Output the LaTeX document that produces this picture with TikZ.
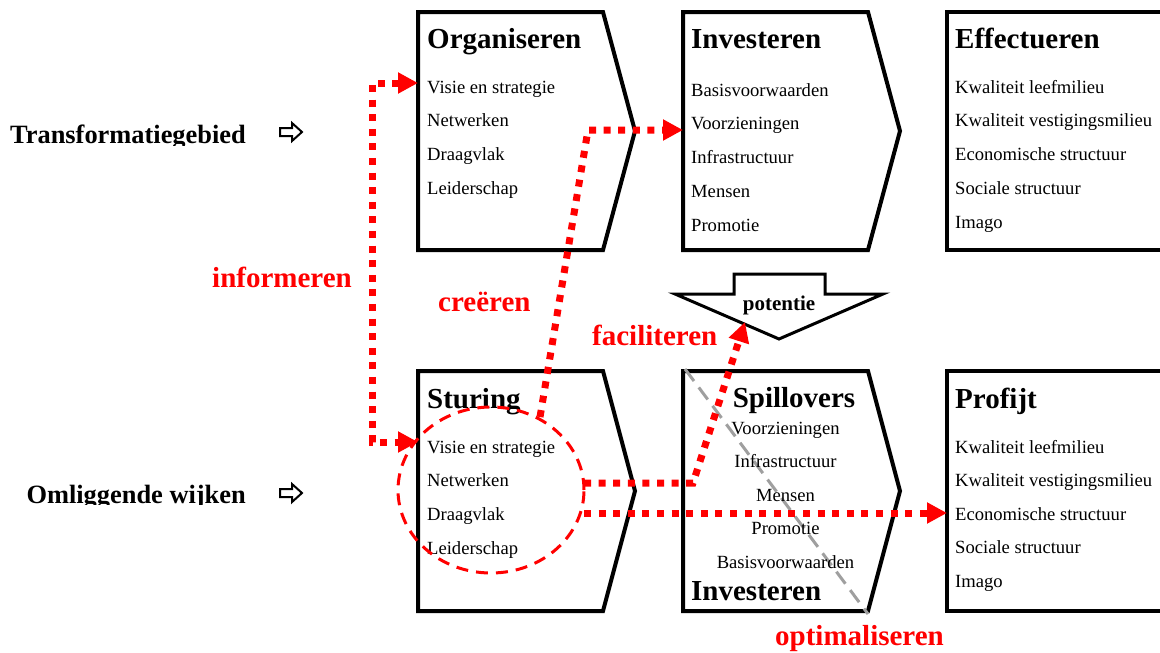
\documentclass[tikz,border=0pt]{standalone}
\usepackage{fontspec}
\setmainfont{Liberation Serif}
\usetikzlibrary{arrows.meta,calc}

% chevron-shaped stage box drawn around a named frame node
\newcommand\drawchevron[1]{%
  \draw[frame] (#1.north west) -- ($(#1.north east)+(-32pt,0pt)$) -- (#1.east)
    -- ($(#1.south east)+(-32pt,0pt)$) -- (#1.south west) -- cycle;}
% outlined right-pointing arrow next to the row labels
\newcommand\rowarrow[1]{%
  \draw[line width=2pt, line join=miter] (280,#1-4) -- (292,#1-4) -- (292,#1-9) -- (302,#1)
    -- (292,#1+9) -- (292,#1+4) -- (280,#1+4) -- cycle;}

\begin{document}
\begin{tikzpicture}[x=1pt,y=-1pt,
  box/.style={inner sep=0pt, outer sep=0pt, draw=none},
  frame/.style={line width=4pt, line join=miter},
  item/.style={anchor=base west, inner sep=0pt, font=\fontsize{18.6}{20}\selectfont},
  citem/.style={anchor=base, inner sep=0pt, font=\fontsize{18.6}{20}\selectfont},
  title/.style={anchor=base west, inner sep=0pt, font=\fontsize{29}{32}\selectfont\bfseries},
  rowlab/.style={anchor=base east, inner sep=0pt, font=\fontsize{26.4}{28}\selectfont\bfseries},
  redlab/.style={anchor=base west, inner sep=0pt, text=red, font=\fontsize{29}{32}\selectfont\bfseries},
  flow/.style={red, line width=7pt, dash pattern=on 7pt off 7.6pt},
  tip/.tip={Triangle[length=20pt,width=20pt]},
]
\useasboundingbox (0,0) rectangle (1160,653);
\clip (0,0) rectangle (1160,653);

% row labels
\begin{scope}
  \clip (0,100) rectangle (260,145);
  \node[rowlab] (transf) at (246,143) {Transformatiegebied};
\end{scope}
\begin{scope}
  \clip (0,460) rectangle (260,504.5);
  \node[rowlab] (omlig) at (246,503) {Omliggende wijken};
\end{scope}
\rowarrow{132}
\rowarrow{493}

% frame nodes
\node[box, minimum width=217pt, minimum height=238pt] (org) at (526.5,131) {};
\node[box, minimum width=217pt, minimum height=238pt] (inv) at (791.5,131) {};
\node[box, minimum width=253pt, minimum height=238pt] (eff) at (1073.5,131) {};
\node[box, minimum width=217pt, minimum height=240pt] (stu) at (526.5,491) {};
\node[box, minimum width=217pt, minimum height=240pt] (spi) at (791.5,491) {};
\node[box, minimum width=253pt, minimum height=240pt] (pro) at (1073.5,491) {};

\drawchevron{org}
\drawchevron{inv}
\drawchevron{stu}
\drawchevron{spi}
\draw[frame] (eff.north east) -- (eff.north west) -- (eff.south west) -- (eff.south east);
\draw[frame] (pro.north east) -- (pro.north west) -- (pro.south west) -- (pro.south east);

% diagonal split of the spillover box
\draw[gray!75, line width=3pt, dash pattern=on 15pt off 8pt] (spi.north west) ++(2pt,2pt) coordinate (gA)
  (gA) -- ($(spi.south east)+(-32pt,-3pt)$);

% titles
\node[title] (torg) at (427,48) {Organiseren};
\node[title] (tinv) at (691,48) {Investeren};
\node[title] (teff) at (955,48) {Effectueren};
\node[title] (tstu) at (427,408) {Sturing};
\node[title, anchor=base] (tspi) at (794,407) {Spillovers};
\node[title] (tinv2) at (691,600) {Investeren};
\node[title] (tpro) at (955,408) {Profijt};

% items
\foreach \t [count=\i] in {Visie en strategie, Netwerken, Draagvlak, Leiderschap}
  \node[item] (o\i) at (427,{93+33.7*(\i-1)}) {\t};
\foreach \t [count=\i] in {Basisvoorwaarden, Voorzieningen, Infrastructuur, Mensen, Promotie}
  \node[item] (v\i) at (691,{96+33.75*(\i-1)}) {\t};
\foreach \t [count=\i] in {Kwaliteit leefmilieu, Kwaliteit vestigingsmilieu, Economische structuur, Sociale structuur, Imago}
  \node[item] (e\i) at (955,{93+33.75*(\i-1)}) {\t};
\foreach \t [count=\i] in {Visie en strategie, Netwerken, Draagvlak, Leiderschap}
  \node[item] (s\i) at (427,{453+33.7*(\i-1)}) {\t};
\foreach \t [count=\i] in {Voorzieningen, Infrastructuur, Mensen, Promotie, Basisvoorwaarden}
  \node[citem] (p\i) at (785.5,{434+33.5*(\i-1)}) {\t};
\foreach \t [count=\i] in {Kwaliteit leefmilieu, Kwaliteit vestigingsmilieu, Economische structuur, Sociale structuur, Imago}
  \node[item] (r\i) at (955,{453+33.5*(\i-1)}) {\t};

% potential block arrow
\draw[line width=3pt, line join=miter, fill=white]
  (734,274) -- (825,274) -- (825,294) -- (883,294) -- (779,339) -- (675,294) -- (734,294) -- cycle;
\node[anchor=base, inner sep=0pt, font=\fontsize{21}{23}\selectfont\bfseries] (pot) at (779,310) {potentie};

% steering circle
\node[box, minimum width=186pt, minimum height=166pt] (ring) at (491,490) {};
\draw[red, line width=3pt, dash pattern=on 12pt off 8pt] (ring.center) ellipse [x radius=93pt, y radius=83pt];

% connector end points
\coordinate (orgIn) at (org.west |- 0,83);
\coordinate (stuIn) at (stu.west |- 0,442);
\coordinate (invIn) at (inv.west |- 0,130);
\coordinate (proIn) at (pro.west |- 0,513);
\coordinate (ringUp) at (540,417);
\coordinate (ringR1) at (ring.east |- 0,483);
\coordinate (ringR2) at (ring.east |- 0,513);
\coordinate (potIn) at (745,322);

% red flows
\draw[flow, tip-tip] (orgIn) -- (372,83) -- (372,442) -- (stuIn);
\draw[flow, -tip] (ringUp) -- (588,130) -- (invIn);
\draw[flow, -tip] (ringR1) -- (693,483) -- (potIn);
\draw[flow, -tip] (ringR2) -- (proIn);

% flow labels
\node[redlab, anchor=base east] (linf) at (352,287) {informeren};
\node[redlab] (lcre) at (438,311) {creëren};
\node[redlab] (lfac) at (592,345) {faciliteren};
\node[redlab] (lopt) at (775,645) {optimaliseren};
\end{tikzpicture}
\end{document}
